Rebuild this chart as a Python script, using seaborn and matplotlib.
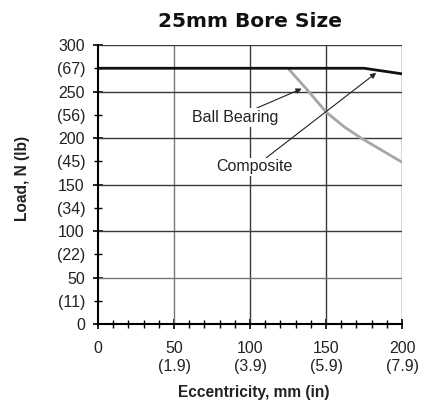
import matplotlib
matplotlib.use("Agg")
import matplotlib.pyplot as plt
import seaborn as sns
import pandas as pd
from matplotlib.ticker import FixedLocator, FixedFormatter

# Data
ball_x = [0, 125, 175, 200]
ball_y = [275, 275, 275, 269]
comp_x = [125, 137, 150, 162, 173, 200]
comp_y = [275, 253, 228, 212, 200, 174]

x_major = [0, 50, 100, 150, 200]
x_major_labels = ["0", "50\n(1.9)", "100\n(3.9)", "150\n(5.9)", "200\n(7.9)"]
y_major = [0, 50, 100, 150, 200, 250, 300]
y_major_labels = ["0", "50", "100", "150", "200", "250", "300"]
y_minor = [25, 75, 125, 175, 225, 275]
y_minor_labels = ["(11)", "(22)", "(34)", "(45)", "(56)", "(67)"]

sns.set_style("white")
plt.rcParams['font.family'] = ['Liberation Sans', 'DejaVu Sans']

fig = plt.figure(figsize=(4.27, 4.04), dpi=100)
ax = fig.add_axes([0.2295, 0.198, 0.712, 0.6906])

# Grid lines
for xv in [50, 100, 150, 200]:
    ax.axvline(xv, color="#3a3a3a" if xv != 50 else "#777777", lw=1.0, zorder=1)
for yv in [50, 100, 150, 200, 250, 300]:
    ax.axhline(yv, color="#3a3a3a" if yv != 50 else "#777777", lw=1.0, zorder=1)

df_c = pd.DataFrame({"x": comp_x, "y": comp_y})
df_b = pd.DataFrame({"x": ball_x, "y": ball_y})
sns.lineplot(data=df_c, x="x", y="y", ax=ax, color="#a6a6a6", lw=2.0, zorder=3, sort=False)
sns.lineplot(data=df_b, x="x", y="y", ax=ax, color="#111111", lw=2.0, zorder=4, sort=False)

ax.set_xlim(0, 200)
ax.set_ylim(0, 300)
for s in ["top", "right"]:
    ax.spines[s].set_visible(False)
for s in ["left", "bottom"]:
    ax.spines[s].set_color("black")
    ax.spines[s].set_linewidth(1.5)
    ax.spines[s].set_zorder(5)

ax.xaxis.set_major_locator(FixedLocator(x_major))
ax.xaxis.set_major_formatter(FixedFormatter(x_major_labels))
ax.xaxis.set_minor_locator(FixedLocator([v for v in range(0, 201, 10) if v % 50]))
ax.yaxis.set_major_locator(FixedLocator(y_major))
ax.yaxis.set_major_formatter(FixedFormatter(y_major_labels))
ax.yaxis.set_minor_locator(FixedLocator(y_minor))
ax.yaxis.set_minor_formatter(FixedFormatter(y_minor_labels))

ax.tick_params(axis="x", which="both", bottom=True)
ax.tick_params(axis="y", which="both", left=True)
ax.tick_params(axis="both", which="major", direction="inout", length=7, width=1.2,
               color="black", labelsize=11.5, labelcolor="#222222")
ax.tick_params(axis="both", which="minor", direction="inout", length=6, width=1.0,
               color="black", labelsize=11.5, labelcolor="#222222")
ax.tick_params(axis="x", which="major", pad=9)
ax.tick_params(axis="y", which="both", pad=6)

ax.set_xlabel("Eccentricity, mm (in)", fontsize=11.2, fontweight="bold", color="#222222")
ax.set_ylabel("Load, N (lb)", fontsize=11.2, fontweight="bold", color="#222222")
ax.xaxis.set_label_coords(0.513, -0.219)
ax.yaxis.set_label_coords(-0.224, 0.52)
ax.set_title("25mm Bore Size", fontsize=14.5, fontweight="heavy", pad=13, color="#111111",
             family=["DejaVu Sans"])

ax.annotate("Ball Bearing", xy=(134, 253), xytext=(90, 222), fontsize=11.5, color="#222222",
            ha="center", va="center",
            arrowprops=dict(arrowstyle="-|>", color="#222222", lw=0.8, shrinkA=0, shrinkB=0,
                            mutation_scale=8), zorder=6,
            bbox=dict(boxstyle="square,pad=0.1", fc="white", ec="none"))
ax.annotate("Composite", xy=(183, 270), xytext=(103, 169), fontsize=11.5, color="#222222",
            ha="center", va="center",
            arrowprops=dict(arrowstyle="-|>", color="#222222", lw=0.8, shrinkA=0, shrinkB=0,
                            mutation_scale=8), zorder=6,
            bbox=dict(boxstyle="square,pad=0.1", fc="white", ec="none"))

fig.savefig("out.png", dpi=100)
